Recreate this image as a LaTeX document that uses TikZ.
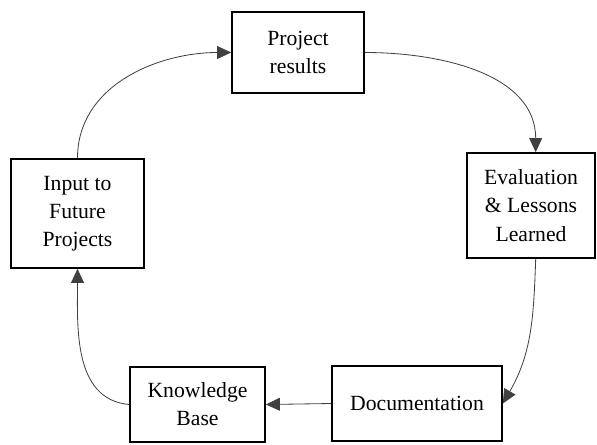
\documentclass[tikz,border=0pt]{standalone}
\usepackage{fontspec}
\setmainfont{Liberation Serif}
\usetikzlibrary{arrows.meta}

\begin{document}
\begin{tikzpicture}[x=0.03cm, y=-0.03cm, >={Triangle[length=12pt,width=11pt]}]
			\tikzstyle{block} = [draw, line width=1.4pt, align=center, inner sep=2pt, font=\fontsize{18.5}{24}\selectfont]
			\tikzstyle{link} = [->, line width=0.7pt, draw=black!75]
			\useasboundingbox (0,0) rectangle (597,444);
			\begin{scope}
			\path

			node[block, minimum width=3.96cm, minimum height=2.43cm] (results) at (298,52.5) {Project\\results}
			node[block, minimum width=3.84cm, minimum height=3.15cm] (lessons) at (531,205.5) {Evaluation\\\& Lessons\\Learned}
			node[block, minimum width=5.1cm, minimum height=2.25cm] (docs) at (417,403.5) {Documentation}
			node[block, minimum width=4.05cm, minimum height=2.25cm] (kbase) at (197.5,404.5) {Knowledge\\Base}
			node[block, minimum width=3.99cm, minimum height=3.27cm] (future) at (77.5,213.5) {Input to\\Future\\Projects}

			(future.north) edge[link, out=90, in=180] (results.west)
			(results.east) edge[link, out=0, in=90] ([xshift=4pt]lessons.north)
			([xshift=4pt]lessons.south) edge[link, out=-92, in=60] (docs.east)
			(docs.west) edge[link] (kbase.east)
			(kbase.west) edge[link, out=175, in=-90] (future.south)
			;
			\end{scope}

			\end{tikzpicture}
\end{document}
